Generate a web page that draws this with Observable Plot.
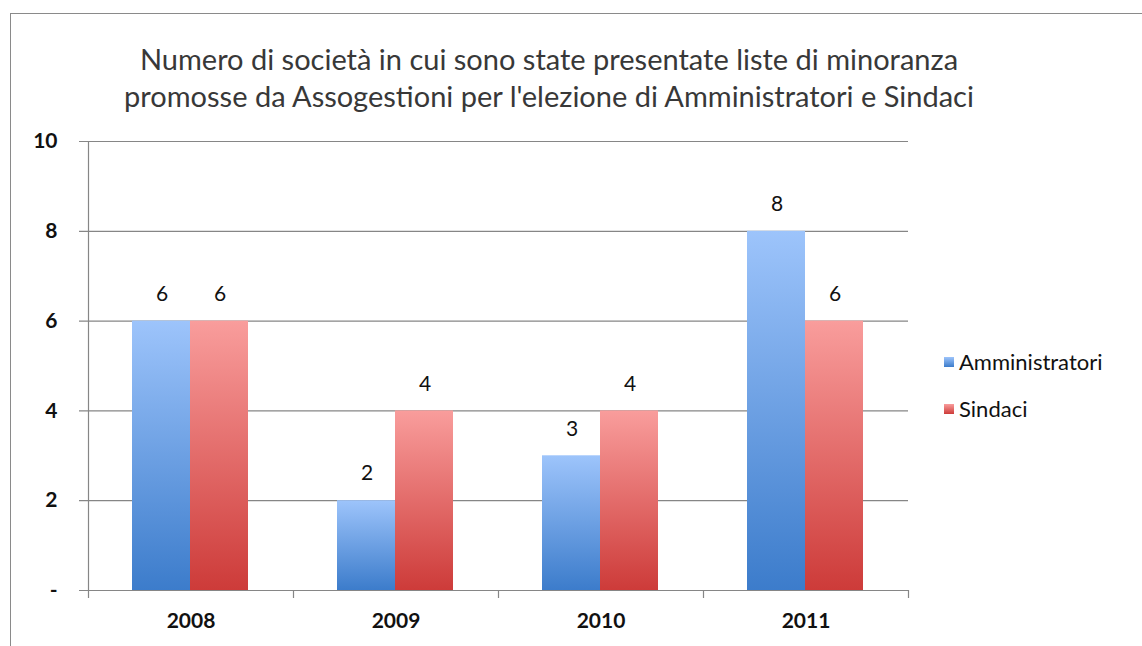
<!DOCTYPE html>
<html>
<head>
<meta charset="utf-8">
<script src="https://cdn.jsdelivr.net/npm/d3@7"></script>
<script src="https://cdn.jsdelivr.net/npm/@observablehq/plot@0.6"></script>
<style>
  html, body { margin: 0; padding: 0; background: #fff; }
  #wrap { position: relative; width: 1142px; height: 646px; overflow: hidden; font-family: Lato, "Open Sans", sans-serif; }
  #border { position: absolute; left: 10px; top: 13px; width: 1200px; height: 700px; border: 1.5px solid #8a8a8a; box-sizing: border-box; }
  #title { position: absolute; left: 0; top: 40px; width: 1098px; text-align: center; font-size: 29px; line-height: 37px; color: #383838; }
  #chart { position: absolute; left: 0; top: 0; }
  #legend { position: absolute; left: 944px; top: 338px; font-size: 22px; color: #111; }
  #legend div { display: flex; align-items: center; height: 47px; }
  #legend span.sw { display: inline-block; width: 10px; height: 10px; margin-right: 5px; }
</style>
</head>
<body>
<div id="wrap">
  <div id="border"></div>
  <div id="chart"></div>
  <div id="title"></div>
  <div id="legend"></div>
</div>
<script>
const titleLines = [
  "Numero di società in cui sono state presentate liste di minoranza",
  "promosse da Assogestioni per l'elezione di Amministratori e Sindaci"
];
const years = ["2008", "2009", "2010", "2011"];
const series = ["Amministratori", "Sindaci"];
const amministratori = [6, 2, 3, 8];
const sindaci = [6, 4, 4, 6];
const yTicks = [0, 2, 4, 6, 8, 10];
const seriesColors = {
  Amministratori: ["#9dc4fb", "#3c7ccb"],
  Sindaci: ["#f99d9c", "#cd3b39"]
};

document.getElementById("title").innerHTML = titleLines.join("<br>");

const dataA = years.map((year, i) => ({year, value: amministratori[i]}));
const dataS = years.map((year, i) => ({year, value: sindaci[i]}));

const step = 205;
const half = step / 2;

const plot = Plot.plot({
  width: 1142,
  height: 646,
  marginLeft: 88,
  marginRight: 234,
  marginTop: 141,
  marginBottom: 56,
  style: {fontFamily: "Lato, 'Open Sans', sans-serif", background: "transparent", overflow: "visible"},
  x: {domain: years, padding: 0, label: null},
  y: {domain: [0, 10], label: null},
  marks: [
    Plot.ruleY(yTicks, {stroke: "#868686", strokeWidth: 1.2, insetLeft: -9}),
    Plot.barY(dataA, {x: "year", y: "value", fill: "url(#gradA)", insetLeft: 44, insetRight: 103}),
    Plot.barY(dataS, {x: "year", y: "value", fill: "url(#gradS)", insetLeft: 102, insetRight: 45}),
    Plot.ruleX(years.slice(0, 1), {x: d => d, y1: 10, y2: 0, dx: -half, stroke: "#868686", strokeWidth: 1.2, insetBottom: -8}),
    Plot.ruleX(years.slice(1), {x: d => d, y1: 0, y2: 0, dx: -half, stroke: "#868686", strokeWidth: 1.2, insetBottom: -8}),
    Plot.ruleX(years.slice(-1), {x: d => d, y1: 0, y2: 0, dx: half, stroke: "#868686", strokeWidth: 1.2, insetBottom: -8}),
    Plot.text(dataA, {x: "year", y: "value", text: d => String(d.value), dx: -29, dy: -27, fontSize: 21, fill: "#111"}),
    Plot.text(dataS, {x: "year", y: "value", text: d => String(d.value), dx: 29, dy: -27, fontSize: 21, fill: "#111"}),
    Plot.axisY({ticks: yTicks, tickSize: 0, tickPadding: 31, tickFormat: d => d === 0 ? "-" : String(d), fontSize: 21, fontWeight: "bold", fill: "#111"}),
    Plot.axisX({tickSize: 0, tickPadding: 23, fontSize: 21, fontWeight: "bold", fill: "#111", style: {letterSpacing: "0.5px"}})
  ]
});

const svg = d3.select(plot);
const defs = svg.insert("defs", ":first-child");
for (const [id, key] of [["gradA", "Amministratori"], ["gradS", "Sindaci"]]) {
  const g = defs.append("linearGradient").attr("id", id).attr("x1", 0).attr("y1", 0).attr("x2", 0).attr("y2", 1);
  g.append("stop").attr("offset", "0%").attr("stop-color", seriesColors[key][0]);
  g.append("stop").attr("offset", "100%").attr("stop-color", seriesColors[key][1]);
}
document.getElementById("chart").appendChild(plot);

const legend = document.getElementById("legend");
for (const s of series) {
  const row = document.createElement("div");
  const sw = document.createElement("span");
  sw.className = "sw";
  sw.style.background = `linear-gradient(${seriesColors[s][0]}, ${seriesColors[s][1]})`;
  row.appendChild(sw);
  row.appendChild(document.createTextNode(s));
  legend.appendChild(row);
}
</script>
</body>
</html>
